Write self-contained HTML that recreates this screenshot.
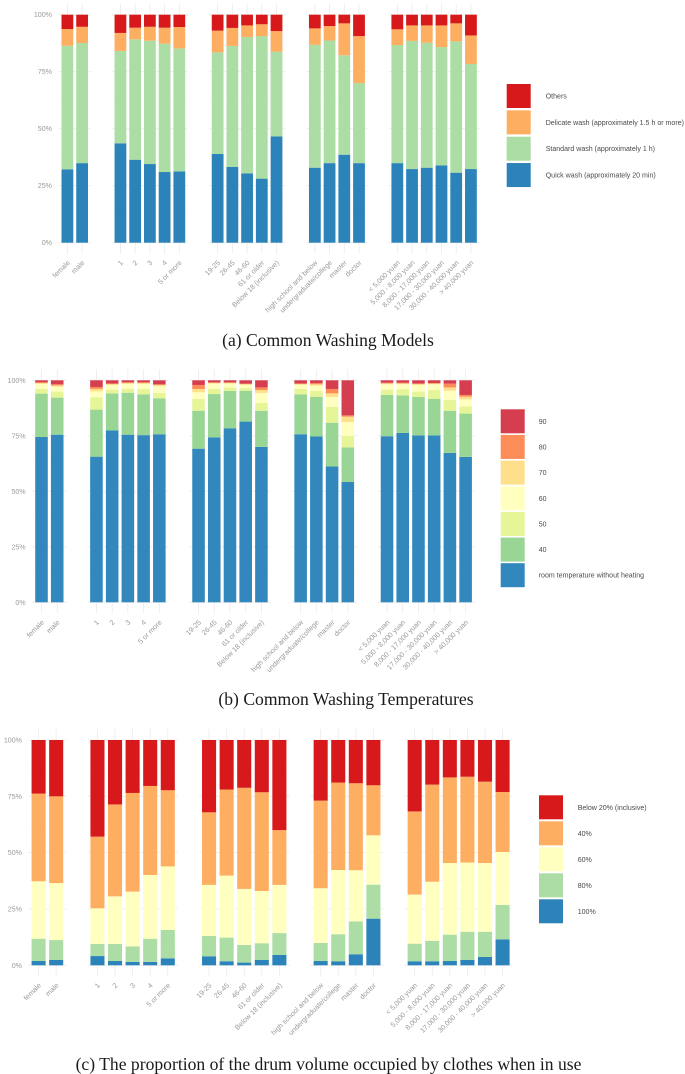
<!DOCTYPE html>
<html lang="en">
<head>
<meta charset="utf-8">
<title>Washing habits stacked bar charts</title>
<style>
html,body{margin:0;padding:0;background:#fff;}
body{width:685px;height:1074px;overflow:hidden;}
svg{display:block;filter:blur(0.35px);}
.tick{font:7.1px "Liberation Sans",sans-serif;fill:#9a9a9a;}
.legend-text{font:7.05px "Liberation Sans",sans-serif;fill:#4a4a4a;}
.caption{font:17.6px "Liberation Serif",serif;fill:#1a1a1a;text-anchor:middle;}
</style>
</head>
<body>
<svg id="figure" width="685" height="1074" viewBox="0 0 685 1074" xmlns="http://www.w3.org/2000/svg">
  <rect width="685" height="1074" fill="#ffffff"/>
  <g id="chart-a"></g>
  <g id="chart-b"></g>
  <g id="chart-c"></g>
  <text class="caption" x="328" y="346">(a) Common Washing Models</text>
  <text class="caption" x="346" y="705">(b) Common Washing Temperatures</text>
  <text class="caption" x="328.5" y="1070">(c) The proportion of the drum volume occupied by clothes when in use</text>
</svg>
<script>
const categories = ["female","male","1","2","3","4","5 or more","19-25","26-45","46-60","61 or older","Below 18 (inclusive)","high school and below","undergraduate/college","master","doctor","< 5,000 yuan","5,000 - 8,000 yuan","8,000 - 17,000 yuan","17,000 - 30,000 yuan","30,000 - 40,000 yuan","> 40,000 yuan"];
const facetSizes = [2,5,5,4,6];
const yTicks = [0,25,50,75,100];
const yTickLabels = ["0%","25%","50%","75%","100%"];

/* Chart (a): bottom to top */
const aQuick = [32.2,34.9,43.6,36.4,34.5,31,31.3,38.9,33.2,30.4,28.1,46.6,32.9,34.9,38.6,34.9,34.9,32.3,32.9,33.9,30.7,32.3];
const aStandard = [54.2,52.7,40.5,52.8,54.1,56.3,53.9,44.6,53.1,59.8,62.5,37.2,53.9,53.8,43.6,35.1,51.8,56.2,54.8,51.9,57.6,46.1];
const aDelicate = [7.3,7.1,7.9,5.1,6.1,7,9.4,9.5,7.9,5.1,5.2,9,7.2,6.3,14,20.6,6.9,6.8,7.6,9.5,7.9,12.5];
const aOthers = [6.3,5.3,8,5.7,5.3,5.7,5.4,7,5.8,4.7,4.2,7.2,6,5,3.8,9.4,6.4,4.7,4.7,4.7,3.8,9.1];
const aLabels = ["Quick wash (approximately 20 min)","Standard wash (approximately 1 h)","Delicate wash (approximately 1.5 h or more)","Others"];

/* Chart (b): bottom to top */
const bRoom = [74.5,75.5,65.6,77.4,75.5,75.3,75.7,69.2,74.3,78.4,81.4,70,75.7,74.7,61.2,54.2,74.8,76.3,75.2,75.2,67.3,65.5];
const b40 = [19.5,16.7,21.2,16.7,18.9,18.4,16.2,17.1,19.5,16.8,13.9,16.3,18,17.9,19.7,15.6,18.6,16.9,17.3,16.5,19,19.5];
const b50 = [2.1,2.7,5.5,1.7,1.8,2.4,2.4,5.3,2.3,1.5,1.2,3.5,2.4,2.6,7.2,5.1,2.4,2.8,2.4,3.9,4.8,3.3];
const b60 = [2.2,2.2,2.7,2.1,2.1,2.2,3,3,2.4,1.8,1.4,4.5,1.9,2.4,4.4,6.3,2.4,2.2,3,2.6,4.2,3.1];
const b70 = [0.5,0.6,1.1,0.4,0.5,0.5,0.6,1.5,0.3,0.3,0.4,1.3,0.3,0.6,1.6,2.4,0.4,0.4,0.4,0.3,1.5,1.2];
const b80 = [0.3,0.5,0.9,0.3,0.3,0.3,0.3,1.8,0.3,0.3,0.2,1.2,0.3,0.6,2,0.6,0.3,0.3,0.3,0.3,1.7,0.8];
const b90 = [0.9,1.8,3,1.4,0.9,0.9,1.8,2.1,0.9,0.9,1.5,3.2,1.4,1.2,3.9,15.8,1.1,1.1,1.4,1.2,1.5,6.6];
const bLabels = ["room temperature without heating","40","50","60","70","80","90"];

/* Chart (c): bottom to top */
const c100 = [1.9,2.4,4.1,1.9,1.5,1.5,3.1,4,1.8,1.2,2.4,4.6,1.9,1.8,4.9,20.7,1.8,1.8,1.9,2.4,3.7,11.5];
const c80 = [9.9,8.8,5.4,7.6,6.9,10.3,12.6,9,10.5,7.8,7.4,9.7,8,12,14.6,15.1,7.8,9.1,11.7,12.5,11.2,15.3];
const c60 = [25.5,25.3,15.8,21.1,24.3,28.3,28.2,22.7,27.5,24.9,23.2,21.4,24.3,28.5,22.7,21.9,21.8,26.2,31.8,30.7,30.5,23.5];
const c40 = [38.9,38.5,31.8,40.8,43.8,39.5,33.8,32.2,38.2,44.9,43.8,24.3,38.9,38.8,38.6,22.2,36.9,43.1,38,38.1,36.1,26.6];
const cBelow20 = [23.8,25,42.9,28.6,23.5,20.4,22.3,32.1,22,21.2,23.2,40,26.9,18.9,19.2,20.1,31.7,19.8,16.6,16.3,18.5,23.1];
const cLabels = ["100%","80%","60%","40%","Below 20% (inclusive)"];

const aColors = ["#2b83ba","#abdda4","#fdae61","#d7191c"];
const bColors = ["#3288bd","#99d594","#e6f598","#ffffbf","#fee08b","#fc8d59","#d53e4f"];
const cColors = ["#2b83ba","#abdda4","#ffffbf","#fdae61","#d7191c"];

const SVG_NS = "http://www.w3.org/2000/svg";

function make(parent, tag, attrs, text) {
  const el = document.createElementNS(SVG_NS, tag);
  Object.keys(attrs).forEach(function (k) { el.setAttribute(k, attrs[k]); });
  if (text !== undefined) el.textContent = text;
  parent.appendChild(el);
  return el;
}

function slug(s) {
  return String(s).toLowerCase().replace(/[^a-z0-9]+/g, "-").replace(/^-|-$/g, "");
}

function facetOf(i) {
  let end = 0;
  for (let f = 0; f < facetSizes.length; f++) {
    end += facetSizes[f];
    if (i < end) return f;
  }
  return facetSizes.length - 1;
}

function drawChart(cfg) {
  const root = document.getElementById(cfg.id);
  const xScale = function (i) { return cfg.x0 + cfg.step * i + cfg.gap * facetOf(i); };
  const yScale = function (v) { return cfg.y0 + (cfg.y100 - cfg.y0) * v / 100; };

  /* panel grid */
  let first = 0;
  facetSizes.forEach(function (size, f) {
    const left = xScale(first) - cfg.step * 0.58;
    const right = xScale(first + size - 1) + cfg.step * 0.58;
    for (let t = 0; t <= 8; t++) {
      const isMajor = t % 2 === 0;
      const gy = yScale(t * 12.5);
      const line = make(root, "line", {
        x1: left, x2: right, y1: gy, y2: gy,
        stroke: isMajor ? "#ebebeb" : "#f5f5f5",
        "stroke-width": isMajor ? 0.8 : 0.5
      });
      
      
    }
    first += size;
  });

  categories.forEach(function (cat, i) {
    const cx = xScale(i);
    const grid = make(root, "line", {
      x1: cx, x2: cx, y1: cfg.y100 - 11, y2: cfg.y0 + 11,
      stroke: "#ebebeb", "stroke-width": 0.8
    });
    
    
  });

  /* stacked bars */
  categories.forEach(function (cat, i) {
    const cx = xScale(i);
    const w = cfg.step * 0.8;
    let total = 0;
    cfg.series.forEach(function (values, s) {
      const v = values[i];
      const top = yScale(total + v);
      const bottom = yScale(total);
      const bar = make(root, "rect", {
        x: cx - w / 2, y: top, width: w, height: Math.max(0, bottom - top),
        fill: cfg.colors[s]
      });
      
      
      total += v;
    });
  });

  /* y tick labels */
  yTicks.forEach(function (t, k) {
    const label = make(root, "text", {
      class: "tick", x: cfg.yLabelX, y: yScale(t) + 2.5, "text-anchor": "end"
    }, yTickLabels[k]);
    
    
  });

  /* x tick labels */
  categories.forEach(function (cat, i) {
    const lx = xScale(i) + 3;
    const ly = cfg.y0 + 20.5;
    const label = make(root, "text", {
      class: "tick", x: lx, y: ly, "text-anchor": "end",
      transform: "rotate(-45 " + lx + " " + ly + ")"
    }, cat);
    
    
  });

  /* legend: top entry is last series */
  const n = cfg.labels.length;
  for (let k = 0; k < n; k++) {
    const s = n - 1 - k;
    const ly = cfg.legendY + k * cfg.legendStep;
    const swatch = make(root, "rect", {
      x: cfg.legendX, y: ly, width: 24, height: 24, fill: cfg.colors[s]
    });
    
    
    const text = make(root, "text", {
      class: "legend-text", x: cfg.legendTextX, y: ly + 14.5
    }, cfg.labels[s]);
    
    
  }
}

drawChart({
  id: "chart-a", series: [aQuick, aStandard, aDelicate, aOthers], labels: aLabels, colors: aColors,
  x0: 67.4, step: 14.72, gap: 23.6, y0: 242.7, y100: 14.7, yLabelX: 52,
  legendX: 506.7, legendY: 84, legendStep: 26.35, legendTextX: 545.7
});
drawChart({
  id: "chart-b", series: [bRoom, b40, b50, b60, b70, b80, b90], labels: bLabels, colors: bColors,
  x0: 41.5, step: 15.72, gap: 23.5, y0: 602.3, y100: 380.3, yLabelX: 25.7,
  legendX: 500.7, legendY: 409.3, legendStep: 25.65, legendTextX: 538.7
});
drawChart({
  id: "chart-c", series: [c100, c80, c60, c40, cBelow20], labels: cLabels, colors: cColors,
  x0: 38.6, step: 17.58, gap: 23.7, y0: 965.3, y100: 740, yLabelX: 22,
  legendX: 539, legendY: 795.3, legendStep: 26, legendTextX: 577.7
});
</script>
</body>
</html>
